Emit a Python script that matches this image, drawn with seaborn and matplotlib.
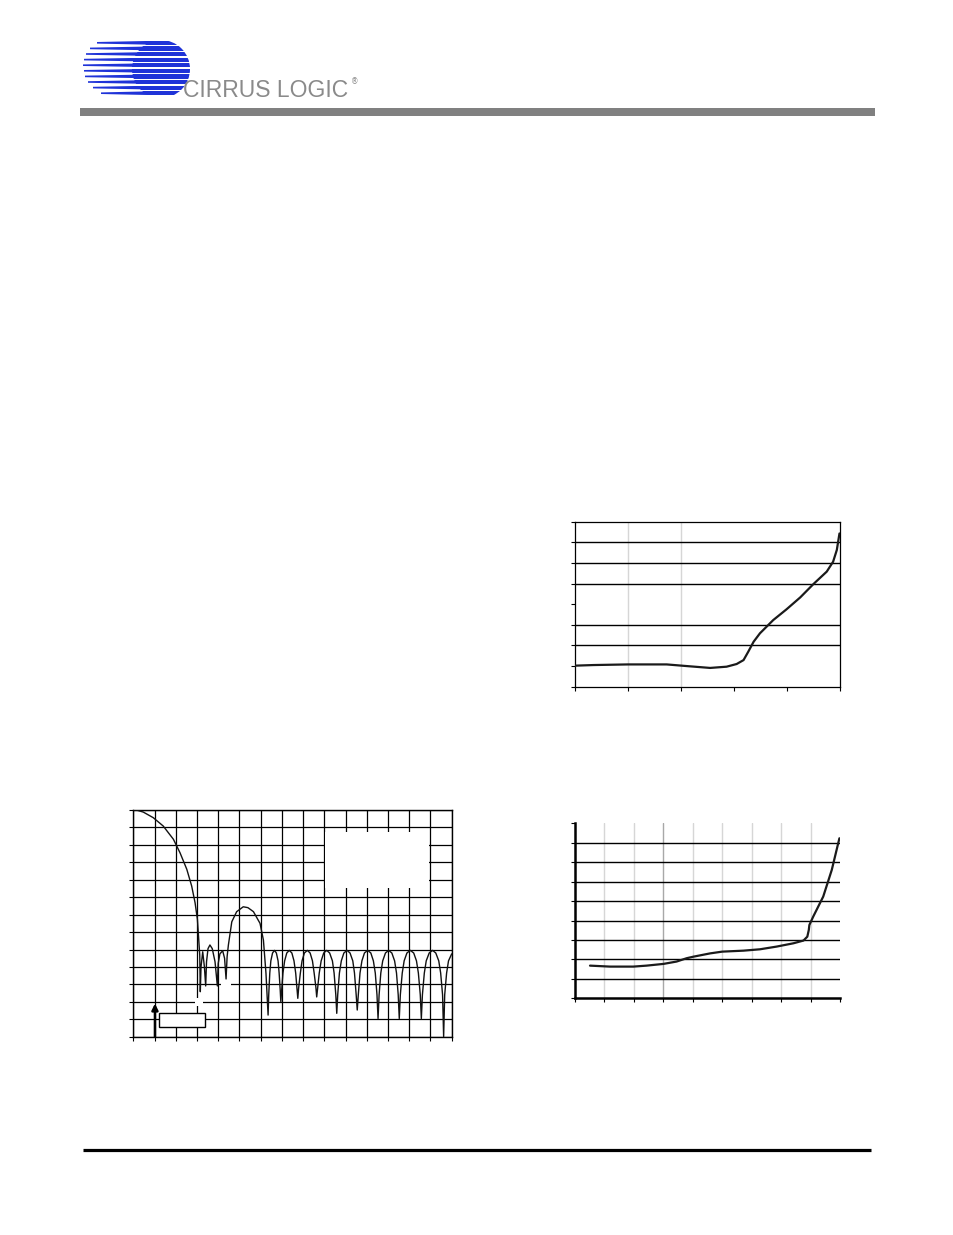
import matplotlib
matplotlib.use("Agg")
import matplotlib.pyplot as plt
import seaborn as sns
from matplotlib.patches import Rectangle, Circle, Polygon

W, H = 954, 1235

# top-right chart (x: 0..5, y: 0..8)
a_x = [0.00, 0.35, 1.00, 1.73, 2.11, 2.55, 2.86, 3.05, 3.18, 3.27, 3.37, 3.49,
       3.74, 3.99, 4.25, 4.50, 4.75, 4.87, 4.94, 4.99]
a_y = [1.02, 1.05, 1.08, 1.08, 1.00, 0.91, 0.97, 1.10, 1.29, 1.70, 2.18, 2.59,
       3.23, 3.75, 4.33, 4.98, 5.58, 6.06, 6.63, 7.43]

# bottom-right chart (x: 0..9, y: 0..9)
b_x = [0.51, 1.19, 1.98, 2.43, 3.01, 3.45, 3.79, 4.02, 4.59, 5.00, 5.72, 6.28,
       6.85, 7.42, 7.76, 7.89, 7.94, 7.96, 8.09, 8.43, 8.72, 8.98]
b_y = [1.68, 1.63, 1.63, 1.68, 1.77, 1.89, 2.06, 2.14, 2.31, 2.40, 2.45, 2.52,
       2.66, 2.83, 2.97, 3.17, 3.51, 3.77, 4.20, 5.23, 6.60, 8.23]

# bottom-left chart (x: 0..15, y: 0..13), filter response
c_x = [0.00, 0.20, 0.47, 0.94, 1.41, 1.89, 2.20, 2.52, 2.75, 2.91, 3.02, 3.06,
       3.13, 3.157,
       3.19, 3.27, 3.35, 3.41, 3.45, 3.52, 3.61, 3.72, 3.85, 3.96,
       4.00, 4.08, 4.21, 4.30, 4.37,
       4.42, 4.48, 4.64, 4.87, 5.18, 5.40, 5.66, 5.97, 6.13, 6.25, 6.30, 6.35,
       6.38, 6.43, 6.48, 6.56, 6.65, 6.74, 6.82, 6.87, 6.92, 6.95,
       6.99, 7.05, 7.13, 7.23, 7.35, 7.47, 7.57, 7.65, 7.71, 7.75,
       7.79, 7.87, 7.95, 8.06, 8.20, 8.33, 8.44, 8.52, 8.60, 8.64,
       8.69, 8.76, 8.85, 8.97, 9.11, 9.25, 9.38, 9.46, 9.54, 9.585,
       9.63, 9.71, 9.80, 9.92, 10.07, 10.21, 10.34, 10.42, 10.50, 10.55,
       10.60, 10.68, 10.77, 10.89, 11.04, 11.19, 11.31, 11.40, 11.48, 11.53,
       11.58, 11.66, 11.75, 11.88, 12.03, 12.18, 12.31, 12.40, 12.48, 12.53,
       12.58, 12.67, 12.76, 12.89, 13.05, 13.21, 13.34, 13.43, 13.52, 13.57,
       13.62, 13.71, 13.80, 13.94, 14.10, 14.25, 14.39, 14.48, 14.57, 14.62,
       14.67, 14.76, 14.85, 15.00]
c_y = [13.00, 12.98, 12.88, 12.56, 12.08, 11.32, 10.55, 9.60, 8.64, 7.68, 6.73,
       5.96, 4.68, 2.58,
       4.00, 4.87, 4.00, 2.91, 4.30, 5.05, 5.26, 5.05, 4.30, 2.91,
       4.20, 4.75, 4.93, 4.50, 3.31,
       4.60, 5.26, 6.59, 7.17, 7.45, 7.40, 7.17, 6.50, 5.54, 3.64, 2.40, 1.24,
       2.40, 3.65, 4.35, 4.80, 4.95, 4.80, 4.35, 3.65, 2.70, 2.01,
       2.70, 3.65, 4.35, 4.80, 4.95, 4.80, 4.35, 3.65, 2.80, 2.20,
       2.80, 3.65, 4.35, 4.80, 4.95, 4.80, 4.35, 3.65, 2.85, 2.28,
       2.85, 3.65, 4.35, 4.80, 4.95, 4.80, 4.35, 3.65, 2.40, 1.34,
       2.40, 3.65, 4.35, 4.80, 4.95, 4.80, 4.35, 3.65, 2.40, 1.53,
       2.40, 3.65, 4.35, 4.80, 4.95, 4.80, 4.35, 3.65, 2.40, 1.04,
       2.40, 3.65, 4.35, 4.80, 4.95, 4.80, 4.35, 3.65, 2.40, 1.04,
       2.40, 3.65, 4.35, 4.80, 4.95, 4.80, 4.35, 3.65, 2.40, 1.04,
       2.40, 3.65, 4.35, 4.80, 4.95, 4.80, 4.35, 3.65, 2.40, 0.00,
       2.40, 3.65, 4.35, 4.75]

# logo stripes (px): row centres and where each tapered line starts on the left
stripe_y = [42.8, 48.4, 54.0, 59.6, 65.2, 70.8, 76.4, 82.0, 87.6, 93.2]
stripe_left = [97, 90, 86, 84, 83, 84, 85, 88, 93, 101]

LOGO_BLUE = "#1f33d8"


def px_axes(fig, x0, y0, x1, y1):
    return fig.add_axes([x0 / W, 1 - y1 / H, (x1 - x0) / W, (y1 - y0) / H])


def blank_ticks(ax):
    ax.set_xticklabels([])
    ax.set_yticklabels([])
    ax.tick_params(direction="out", length=3, width=0.8, color="black",
                   left=True, bottom=True, labelleft=False, labelbottom=False)


def draw_header_footer(fig):
    ax = fig.add_axes([0, 0, 1, 1])
    ax.set_xlim(0, W)
    ax.set_ylim(H, 0)
    ax.axis("off")

    # logo: blue disc sliced into bands, with tapered lines running left
    cx, cy, r = 161, 69, 29
    ax.add_patch(Circle((cx, cy), r, color=LOGO_BLUE, lw=0))
    for yc, xl in zip(stripe_y, stripe_left):
        ax.add_patch(Polygon([(xl, yc - 0.8), (cx, yc - 2.1),
                              (cx, yc + 2.1), (xl, yc + 0.8)],
                             closed=True, color=LOGO_BLUE, lw=0))
    for yc in stripe_y[:-1]:
        ax.add_patch(Rectangle((120, yc + 2.1), 75, 1.5, color="white", lw=0))
    ax.add_patch(Rectangle((120, 30), 75, stripe_y[0] - 2.1 - 30,
                           color="white", lw=0))
    ax.add_patch(Rectangle((120, stripe_y[-1] + 2.1), 75, 10,
                           color="white", lw=0))

    ax.text(183, 97, "CIRRUS LOGIC", color="#8a8a8a", fontsize=16.5,
            family=["Liberation Sans"], ha="left", va="baseline")
    ax.text(351, 84, "\u00ae", color="#8a8a8a", fontsize=5.5,
            family=["DejaVu Sans"], ha="left", va="baseline")

    ax.add_patch(Rectangle((80, 108), 795, 8, color="#808080", lw=0))
    ax.plot([83, 871], [1150, 1150], color="black", lw=2.3,
            solid_capstyle="butt")


def plot_top_right(fig):
    ax = px_axes(fig, 575, 521.7, 840, 686.7)
    ax.set_xlim(0, 5)
    ax.set_ylim(0, 8)
    ax.set_xticks(range(6))
    ax.set_yticks(range(9))
    for v in [1, 2]:
        ax.axvline(v, color="#d6d6d6", lw=1.0, zorder=1)
    for h in [2, 3, 5, 6, 7]:
        ax.axhline(h, color="black", lw=1.0, zorder=1)
    for s in ax.spines.values():
        s.set_color("black")
        s.set_linewidth(0.9)
    sns.lineplot(x=a_x, y=a_y, ax=ax, color="#1a1a1a", lw=1.6,
                 sort=False, estimator=None, zorder=3)
    blank_ticks(ax)


def plot_bottom_right(fig):
    ax = px_axes(fig, 575, 823.3, 840, 998.3)
    ax.set_xlim(0, 9)
    ax.set_ylim(0, 9)
    ax.set_xticks(range(10))
    ax.set_yticks(range(10))
    for v in range(1, 9):
        ax.axvline(v, color="#a8a8a8" if v == 3 else "#d6d6d6", lw=1.0, zorder=1)
    for h in range(1, 9):
        ax.axhline(h, color="black", lw=1.0, zorder=1)
    ax.spines["top"].set_visible(False)
    ax.spines["right"].set_visible(False)
    ax.spines["left"].set_linewidth(1.8)
    ax.spines["bottom"].set_linewidth(1.8)
    ax.spines["left"].set_color("black")
    ax.spines["bottom"].set_color("black")
    sns.lineplot(x=b_x, y=b_y, ax=ax, color="#1a1a1a", lw=1.6,
                 sort=False, estimator=None, zorder=3)
    blank_ticks(ax)


def plot_filter(fig):
    ax = px_axes(fig, 133.3, 810, 451.7, 1036.7)
    ax.set_xlim(0, 15)
    ax.set_ylim(0, 13)
    ax.set_xticks(range(16))
    ax.set_yticks(range(14))
    ax.grid(True, color="black", lw=0.9)
    ax.set_axisbelow(True)
    for s in ax.spines.values():
        s.set_color("black")
        s.set_linewidth(1.0)

    # blank areas where labels sat
    ax.add_patch(Rectangle((9.05, 8.55), 4.9, 3.2, color="white", lw=0, zorder=1))
    ax.add_patch(Rectangle((2.9, 1.75), 0.4, 0.45, color="white", lw=0, zorder=1))
    ax.add_patch(Rectangle((4.15, 2.8), 0.45, 0.4, color="white", lw=0, zorder=1))

    sns.lineplot(x=c_x, y=c_y, ax=ax, color="#111111", lw=1.0,
                 sort=False, estimator=None, zorder=3)

    ax.annotate("", xy=(1.02, 1.9), xytext=(1.02, 0),
                arrowprops=dict(arrowstyle="-|>", lw=1.8, color="black",
                                mutation_scale=9, shrinkA=0, shrinkB=0))
    ax.add_patch(Rectangle((1.23, 0.54), 2.16, 0.8, facecolor="white",
                           edgecolor="black", lw=1.0, zorder=4))
    blank_ticks(ax)


def main():
    sns.set_style("white")
    fig = plt.figure(figsize=(W / 100, H / 100), dpi=100)
    draw_header_footer(fig)
    plot_top_right(fig)
    plot_bottom_right(fig)
    plot_filter(fig)
    fig.savefig("out.png", dpi=100)
    plt.close(fig)


if __name__ == "__main__":
    main()
